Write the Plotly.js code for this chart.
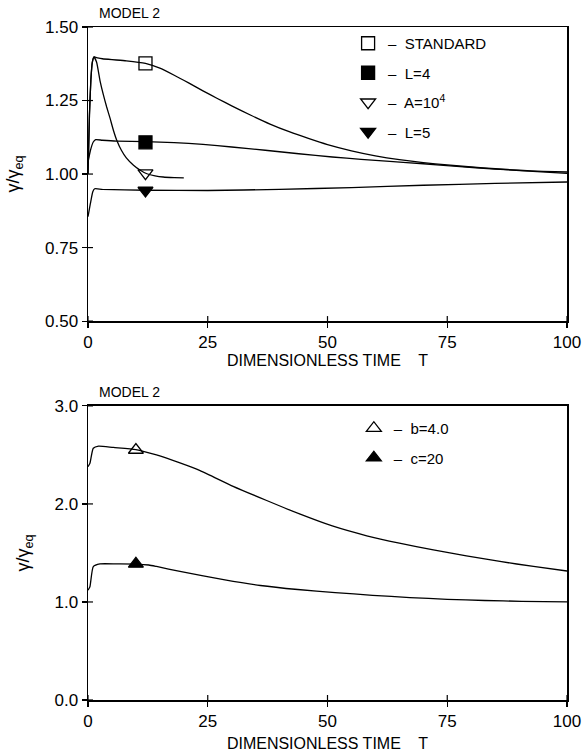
<!DOCTYPE html>
<html>
<head>
<meta charset="utf-8">
<script src="https://cdn.plot.ly/plotly-3.0.1.min.js"></script>
<style>html,body{margin:0;padding:0;background:#fff;}#chart{width:584px;height:756px;}</style>
</head>
<body>
<div id="chart"></div>
<script>
// ---- Top panel (MODEL 2) ----
const tStandard = [0, 0.3, 0.6, 0.9, 1.25, 2, 3, 5, 8, 12, 15, 18, 21, 24, 27, 30, 34, 38, 42, 46, 50, 55, 60, 65, 70, 75, 80, 85, 90, 95, 100];
const yStandard = [1.00, 1.20, 1.32, 1.38, 1.398, 1.395, 1.392, 1.389, 1.385, 1.376, 1.36, 1.336, 1.31, 1.283, 1.257, 1.232, 1.200, 1.170, 1.144, 1.121, 1.100, 1.079, 1.062, 1.049, 1.039, 1.031, 1.024, 1.018, 1.013, 1.009, 1.007];

const tL4 = [0, 0.5, 1.1, 1.6, 3, 6, 12, 18, 24, 30, 37, 44, 51, 57, 63, 70, 77, 85, 92, 100];
const yL4 = [1.04, 1.08, 1.109, 1.117, 1.115, 1.112, 1.11, 1.107, 1.101, 1.092, 1.081, 1.069, 1.058, 1.050, 1.043, 1.035, 1.026, 1.017, 1.010, 1.002];

const tA = [0, 0.3, 0.6, 0.9, 1.25, 1.8, 2.5, 3.2, 3.9, 4.6, 5.3, 6, 7, 8, 9.5, 11, 12.3, 14, 15.7, 18, 20];
const yA = [1.00, 1.20, 1.32, 1.38, 1.398, 1.38, 1.318, 1.27, 1.228, 1.19, 1.149, 1.115, 1.08, 1.055, 1.03, 1.012, 1.001, 0.994, 0.99, 0.988, 0.987];

const tL5 = [0, 0.5, 1.0, 1.4, 3, 12, 25, 40, 55, 70, 85, 100];
const yL5 = [0.855, 0.90, 0.94, 0.95, 0.948, 0.945, 0.944, 0.948, 0.954, 0.962, 0.968, 0.973];

const topNames = ["–  STANDARD", "–  L=4", "–  A=10<sup>4</sup>", "–  L=5"];
const topSymbols = ["square-open", "square", "triangle-down-open", "triangle-down"];
const topMarkT = [12, 12, 12, 12];
const topMarkY = [1.376, 1.108, 1.003, 0.944];

// ---- Bottom panel (MODEL 2) ----
const tB = [0, 0.4, 1.1, 2.2, 5.3, 10, 14.3, 19.2, 23.4, 30.3, 37.3, 44.3, 51, 58.2, 65, 72.1, 79, 86, 93, 100];
const yB = [2.38, 2.415, 2.568, 2.59, 2.576, 2.555, 2.5, 2.418, 2.34, 2.18, 2.035, 1.895, 1.775, 1.675, 1.600, 1.532, 1.470, 1.413, 1.362, 1.316];

const tC = [0, 0.4, 1.1, 2.5, 6, 10, 12.7, 14.3, 19.2, 28.3, 36, 43.8, 51.6, 59.4, 67.2, 75, 82.8, 90.5, 100];
const yC = [1.12, 1.156, 1.36, 1.388, 1.388, 1.387, 1.377, 1.362, 1.312, 1.228, 1.168, 1.127, 1.096, 1.068, 1.045, 1.027, 1.015, 1.007, 1.0];

const botNames = ["–  b=4.0", "–  c=20"];
const botSymbols = ["triangle-up-open", "triangle-up"];
const botMarkT = [10, 10];
const botMarkY = [2.55, 1.388];

const xTicks = [0, 25, 50, 75, 100];
const yTopTicks = [0.5, 0.75, 1.0, 1.25, 1.5];
const yBotTicks = [0, 1, 2, 3];

const FONT = "Liberation Sans, Arial, sans-serif";

const traces = [];
const topCurves = [[tStandard, yStandard], [tL4, yL4], [tA, yA], [tL5, yL5]];
topCurves.forEach(function (c) {
  traces.push({x: c[0], y: c[1], mode: "lines", line: {color: "black", width: 1.3, shape: "spline", smoothing: 0.5}, xaxis: "x", yaxis: "y", showlegend: false, hoverinfo: "skip"});
});
topNames.forEach(function (n, i) {
  traces.push({x: [topMarkT[i]], y: [topMarkY[i]], mode: "markers", name: n, legend: "legend", legendgroup: "t" + i,
    marker: {symbol: topSymbols[i], size: 13, color: "black", line: {color: "black", width: 1.3}}, xaxis: "x", yaxis: "y"});
});
const botCurves = [[tB, yB], [tC, yC]];
botCurves.forEach(function (c) {
  traces.push({x: c[0], y: c[1], mode: "lines", line: {color: "black", width: 1.3, shape: "spline", smoothing: 0.5}, xaxis: "x2", yaxis: "y2", showlegend: false, hoverinfo: "skip"});
});
botNames.forEach(function (n, i) {
  traces.push({x: [botMarkT[i]], y: [botMarkY[i]], mode: "markers", name: n, legend: "legend2", legendgroup: "b" + i,
    marker: {symbol: botSymbols[i], size: 13, color: "black", line: {color: "black", width: 1.3}}, xaxis: "x2", yaxis: "y2"});
});

const topDom = [0.563, 1];
const botDom = [0, 0.437];

function mainX(anchor, standoff) {
  return {domain: [0, 1], anchor: anchor, range: [0, 100], tickmode: "array", tickvals: xTicks, ticks: "outside", ticklen: 5, tickwidth: 1.2, tickcolor: "black",
    showline: true, mirror: true, linecolor: "black", linewidth: 1.5, showgrid: false, zeroline: false,
    tickfont: {family: FONT, size: 17, color: "black"},
    title: {text: "DIMENSIONLESS TIME    T", font: {family: FONT, size: 16, color: "black"}, standoff: standoff}, automargin: false, fixedrange: true};
}
function mainY(anchor, dom, range, ticks, fmt) {
  return {domain: dom, anchor: anchor, range: range, tickmode: "array", tickvals: ticks, tickformat: fmt, ticks: "outside", ticklen: 5, tickwidth: 1.2, tickcolor: "black",
    showline: true, mirror: true, linecolor: "black", linewidth: 1.5, showgrid: false, zeroline: false,
    tickfont: {family: FONT, size: 17, color: "black"},
    title: {text: "γ/γ<sub>eq</sub>", font: {family: FONT, size: 18, color: "black"}, standoff: 20}, automargin: false, fixedrange: true};
}

// inner half of the crossing tick marks, placed at the tick values through the axes
const INNER = 5;
const shapes = [];
function innerXTicks(xref, yref) {
  xTicks.forEach(function (v) {
    shapes.push({type: "line", layer: "above", xref: xref, yref: yref + " domain", x0: v, x1: v,
      ysizemode: "pixel", yanchor: 0, y0: 0, y1: INNER, line: {color: "black", width: 1.2}});
  });
}
function innerYTicks(xref, yref, vals) {
  vals.forEach(function (v) {
    shapes.push({type: "line", layer: "above", xref: xref + " domain", yref: yref, y0: v, y1: v,
      xsizemode: "pixel", xanchor: 0, x0: 0, x1: INNER, line: {color: "black", width: 1.2}});
  });
}
innerXTicks("x", "y");
innerYTicks("x", "y", yTopTicks);
innerXTicks("x2", "y2");
innerYTicks("x2", "y2", yBotTicks);

const legendCommon = {xanchor: "left", yanchor: "top", bgcolor: "rgba(0,0,0,0)", borderwidth: 0,
  font: {family: FONT, size: 15, color: "black"}, tracegroupgap: 7, traceorder: "grouped", itemclick: false, itemdoubleclick: false};

const layout = {
  width: 584, height: 756,
  margin: {l: 88, r: 17, t: 27, b: 56},
  paper_bgcolor: "white", plot_bgcolor: "white",
  font: {family: FONT, color: "black"},
  xaxis: mainX("y", 0),
  yaxis: mainY("x", topDom, [0.5, 1.5], yTopTicks, ".2f"),
  xaxis2: mainX("y2", 8),
  yaxis2: mainY("x2", botDom, [0, 3], yBotTicks, ".1f"),
  legend: Object.assign({x: 0.543, y: 1.0}, legendCommon),
  legend2: Object.assign({x: 0.555, y: 0.428}, legendCommon),
  showlegend: true,
  shapes: shapes,
  annotations: [
    {text: "MODEL 2", xref: "paper", yref: "paper", x: 0.019, y: 1, xanchor: "left", yanchor: "bottom", yshift: 4, showarrow: false,
      font: {family: FONT, size: 14, color: "black"}},
    {text: "MODEL 2", xref: "paper", yref: "paper", x: 0.019, y: botDom[1], xanchor: "left", yanchor: "bottom", yshift: 4, showarrow: false,
      font: {family: FONT, size: 14, color: "black"}}
  ]
};

Plotly.newPlot("chart", traces, layout, {displayModeBar: false, staticPlot: true});
</script>
</body>
</html>
